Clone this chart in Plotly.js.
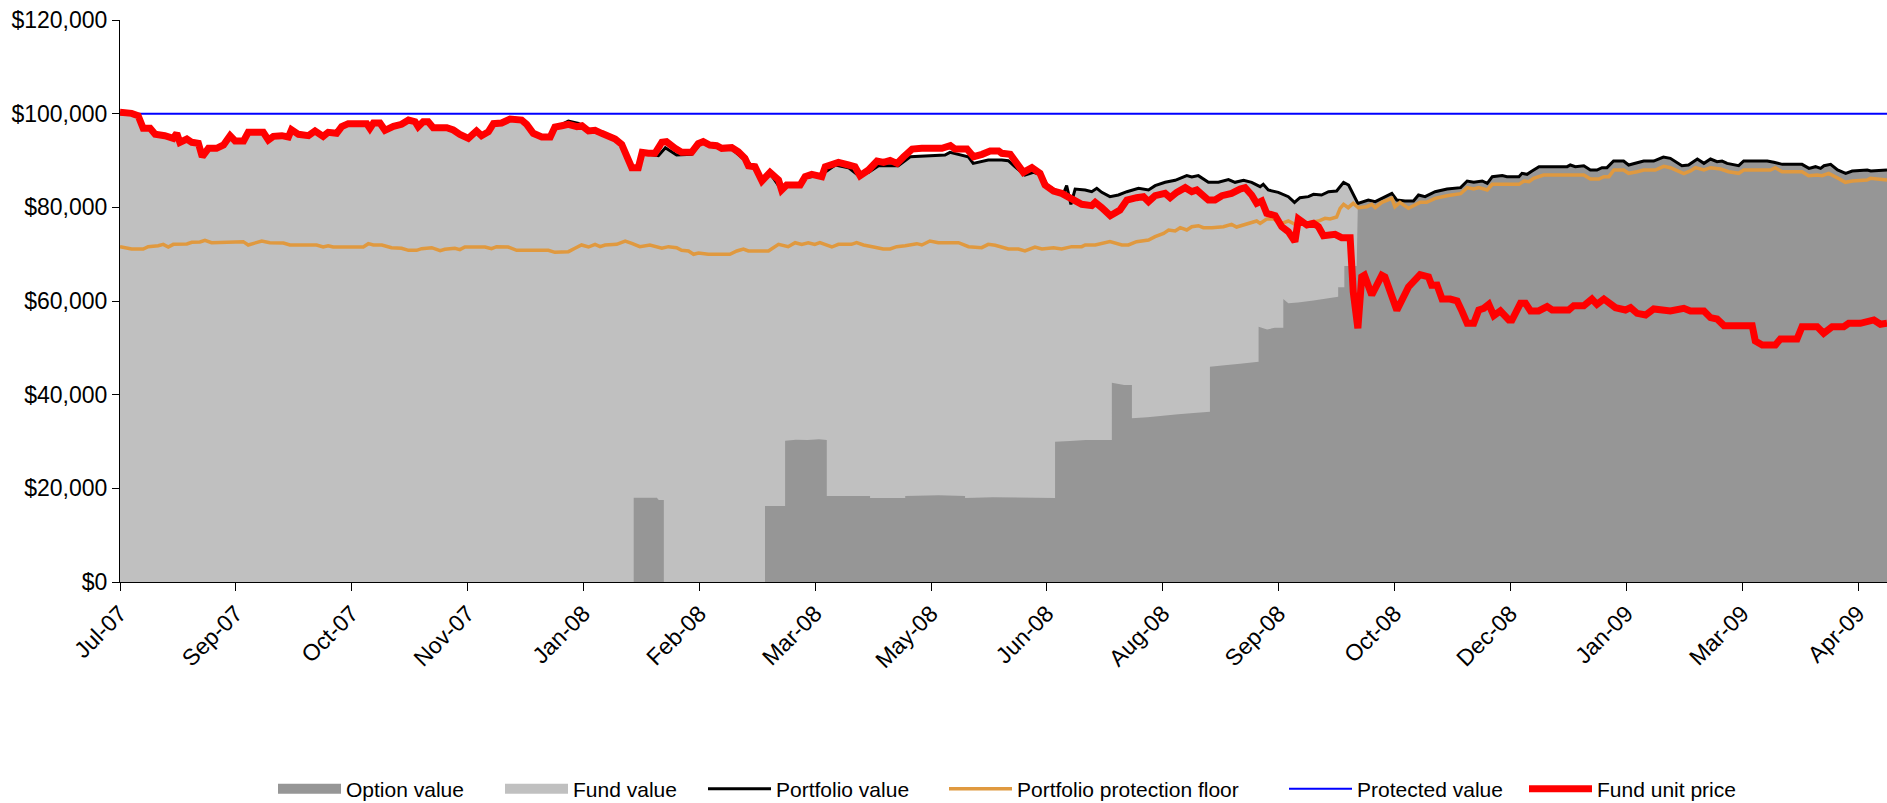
<!DOCTYPE html>
<html>
<head>
<meta charset="utf-8">
<script src="https://cdn.plot.ly/plotly-3.0.1.min.js"></script>
<style>
  html, body { margin: 0; padding: 0; background: #ffffff; }
  #chart { width: 1887px; height: 803px; }
</style>
</head>
<body>
<div id="chart"></div>
<script>
// ---- Data (x = trading-day index from the first observation) ----
const tickLabels = ['Jul-07','Sep-07','Oct-07','Nov-07','Jan-08','Feb-08','Mar-08','May-08',
                    'Jun-08','Aug-08','Sep-08','Oct-08','Dec-08','Jan-09','Mar-09','Apr-09'];
const daysPerTick = 30;

const protectedValue = 100000;

// Portfolio value (black line = top of the stacked area)
const portX = [0,3,4.7,6,7.8,9.1,11.6,13.8,14.7,15.5,17.3,18.6,20.3,21.3,22.9,25,26.8,28.5,29.8,32,33.2,37.1,38.4,39.7,41.9,43.6,44.4,46.2,48.8,50.5,52.6,53.9,56.1,57.4,59.1,63.9,64.7,65.6,67.3,68.6,70.8,72.9,74.7,76.4,77.2,78.5,79.8,81.1,84.6,86.3,88,90.2,92.3,93.6,95.4,96.7,98.8,101,104,105.3,107,109.2,111.4,112.6,114.4,116.1,118.7,121.3,126.5,129.9,132.5,134.2,135.2,139.4,141.2,144.1,148,150.6,154.1,158.4,161.8,164.4,166.2,168.3,171.3,173,176.1,177.4,180.8,183,185.2,188.6,191.2,193.8,196.4,201.5,204.6,213.6,214.9,219.6,220.9,224.8,228.3,230,231.7,234.3,236.5,238.7,240,242.1,244.3,245.1,246.2,247.3,249.9,251.6,252.9,254.2,256.3,258.5,260.7,263.7,266.3,268,270.6,273.2,276.2,277.5,279.2,281.8,284.4,287,288.7,290.9,293,295.2,296,297.3,299.9,302.5,304.1,305.5,307.7,309,311.1,312.9,315,316.8,318.1,320.5,323.2,325,327.1,329.3,330.6,332.7,334.9,336.2,337.9,340.5,343.6,347.1,348.8,350.5,352.7,354,355.3,357.9,359.1,362.2,363,364.3,365.6,367.4,374.7,375.5,376.8,379,380.7,382.4,383.7,385,386.7,389.3,390.6,392.3,394.5,397.1,399.6,401.4,404.4,406.1,408.4,410.1,411.8,413.5,414.8,416.1,417.8,419.1,420.4,426.5,428.2,430.4,435.5,437.3,439,440.3,441.2,442.9,444.7,446.8,448.5,452.4,453.3,457.5];
const portY = [100000,99900,99500,96870,96870,95590,95300,94730,95800,93880,94590,93880,93670,90820,92600,92600,93310,95300,94170,94170,96010,96010,94380,95160,95300,95020,96580,95590,95300,96300,95160,96010,95800,97220,97860,97860,96870,98000,98000,96440,97290,97720,98640,98290,97220,98290,98290,97010,97010,96510,95590,94730,96300,95300,96150,98000,98200,99000,98700,97720,95800,95020,95020,97300,97700,98430,97930,96510,95090,93670,88470,88470,91530,91030,92740,91170,91310,93880,93160,92450,90100,88470,85620,87260,83700,84630,84630,86330,86770,87760,89040,88470,86770,87470,88890,88890,90810,91170,91740,90810,89390,90100,90100,89960,88680,86910,87470,86910,84770,83700,82990,84630,80640,83910,83700,83340,84060,83200,82280,82630,83340,84060,83700,84630,85340,85770,86770,86480,86770,85340,85340,85910,85340,85770,85340,84410,84910,83700,83200,82280,81060,82060,82280,82770,82630,83340,83490,85340,84770,80850,81560,81210,82060,82990,81560,81350,81350,82630,82280,83340,83910,84200,85620,85340,85620,85130,86550,86770,86550,86550,87260,87050,87760,88680,88680,89040,88680,88890,87970,87970,88470,88470,89890,89890,89040,89390,89890,89890,90740,90460,88890,89040,90320,89390,90320,89750,89890,89390,89180,88890,89890,89890,89610,89180,89180,88320,88680,88320,88890,89180,87970,87260,87760,87970,87760,87970];

// Option value (dark area); after the switch the fund value is zero, so the
// option value equals the portfolio value from that point on.
const optX = [0,133,133,139,139.5,140.8,140.8,167,167,172.2,172.2,175,178,181,183,183,194.2,194.2,203.3,203.3,212,218.8,218.8,226,242.1,242.1,246,250,256.8,256.8,260,262,262,266,270,274,278,282.2,282.2,286,290,294.8,294.8,297,299,301.2,301.2,302.5,305,309,312,315.4,315.4,317,317,320.2];
const optY = [0,0,18000,18000,17500,17500,0,0,16230,16230,30170,30400,30300,30500,30300,18360,18360,17935,17935,18360,18500,18360,17935,18100,17935,29960,30100,30300,30300,42560,42060,42060,34950,35200,35500,35800,36100,36370,45970,46300,46600,47040,54510,53900,54300,54300,60430,59500,59700,60100,60500,60920,62920,62920,67470,67470];

// Portfolio protection floor (orange)
const floorX = [0,3,6,7.3,9.9,11.2,12.5,13.8,17.3,18.6,20.7,22,23.7,31.9,33.2,35,36.7,38.8,42.3,44,50.9,52.6,53.9,55.2,63,64.3,65.6,67.8,70.3,72.9,74.7,76.8,78.1,80.7,82.9,84.1,86.7,88,89.3,94.5,96.2,97.5,100.5,102.7,110.9,112.6,116.1,117.8,119.5,121.3,123,124.3,125.6,128.6,130.8,132.5,134.6,137.2,140.3,142,144.1,145.4,147.2,148.5,149.8,152.3,157.9,159.7,161.4,162.7,167.9,170.5,173,174.8,176.5,178.2,179.9,181.2,184.3,186,189.4,190.7,192.5,195.1,197.6,199.4,201.1,203.3,206.3,207.6,209.7,211.9,217.1,219.7,223.1,224.8,226.6,230,232.6,234.3,236.9,238.7,241.7,243.8,246.4,249,249.9,252.5,254.2,256.3,259.4,261.1,263.2,266.3,268,270.2,271.5,273.2,274.5,276.2,277.5,279.2,280.5,282.7,285.7,287.8,289.1,292.2,294.3,295.2,296.9,298.6,300.8,302.5,304.2,306,308.1,310.3,312,313.3,315,315.9,316.8,318,319.3,320.6,322.8,324.1,325,326.7,329.3,330.1,331.4,333.6,335.3,336.6,338.3,340.5,343.6,347.1,348.8,350.5,351.8,354,355.3,362.2,363.5,364.8,366,368.6,379,380.7,382.9,384.2,385.5,386.8,389.3,390.6,392.8,394.5,397.5,399.7,401.4,404.9,406.6,407.9,410.1,411.8,414.4,416.5,419.1,420.4,427.3,428.6,430.3,435.5,437.2,439.4,440.7,442.4,444.6,446.7,448.5,452.3,453.2,457.5];
const floorY = [71600,71100,71100,71600,71810,72100,71530,72100,72170,72520,72600,72950,72450,72670,71960,72450,72810,72450,72380,71960,71960,71530,71810,71530,71530,72240,71960,71960,71390,71250,70820,70820,71180,71390,70750,71030,71250,70960,71530,71530,71180,71600,71530,70820,70820,70390,70530,71250,71960,71530,72100,71600,71960,72100,72810,72310,71600,71960,71250,71600,71390,70820,70680,69970,70250,69970,69970,70680,71100,70680,70680,72100,71600,72450,72100,72450,72100,72450,71530,72100,72100,72450,71960,71530,71100,71100,71600,71810,72240,71960,72810,72450,72450,71600,71390,72100,71900,71100,71100,70680,71530,71100,71390,71100,71600,71600,71960,71960,72310,72670,71960,71960,72670,73020,73730,74440,75160,74940,75650,75160,75870,76080,75650,75650,75870,76370,75800,76580,77080,76580,77510,77510,76580,77080,76370,76370,76800,77080,77650,77510,77930,79790,80640,79930,80850,79930,80140,80640,79930,81060,81920,80140,81060,79790,80500,81060,81060,81920,82490,82910,84200,83910,84200,83700,84910,84910,85620,85480,86190,86910,86910,86050,86050,86550,86550,87970,87970,87260,87610,87970,87970,88750,88470,87190,87760,88470,87970,88470,88180,87610,87260,87970,87970,88470,87610,87610,86770,86910,86770,87260,86330,85340,85620,85840,86190,85840];

// Fund unit price (red)
const priceX = [0,3,4.7,6,7.8,9.1,11.6,13.8,14.7,15.5,17.3,18.6,20.3,21.3,22.9,25,26.8,28.5,29.8,32,33.2,37.1,38.4,39.7,41.9,43.6,44.4,46.2,48.8,50.5,52.6,53.9,56.1,57.4,59.1,63.9,64.7,65.6,67.3,68.6,70.8,72.9,74.7,76.4,77.2,78.5,79.8,81.1,84.6,86.3,88,90.2,92.3,93.6,95.4,96.7,98.8,101,104,105.3,107,109.2,111.4,112.6,114.4,116.1,118.3,119.6,121.3,123,124.7,126.5,128.2,129.9,131.2,132.5,134.2,135.2,136.8,138.5,140.3,141.5,143.7,145.4,148,149.7,151,152.7,154.5,155.8,158.4,160.1,161.8,162.7,164.4,166.2,168.3,169.6,170.5,171.3,172.6,176.1,177.4,179.1,180.8,181.7,182.6,184.3,186,188.6,190.3,191.6,193.8,196,197.7,199.4,201.2,202.9,205.1,207.6,209.8,212.8,215,216.2,219.3,221,223.2,225.3,227.5,228.3,230.5,231.8,233.9,236.1,238.2,239.5,241.7,243.8,245.6,247.3,249,251.6,252.5,254.2,256.4,258.9,260.7,263.2,265,266.3,268,270.6,271.9,273.6,275.8,277.5,278.8,281.8,283.5,285.3,287.8,290,291.3,293,294.3,295.6,296.9,299.1,300.8,302.5,304.2,305.1,307.3,309,310.3,311.6,314.6,316.3,318.5,319.3,320.5,321.5,322.2,324.1,326.7,327.5,330.6,333.6,336.6,338.8,339.6,341,342.3,344.4,346.2,347.5,348.8,350.5,351.8,353.1,354.4,355.7,357.4,359.6,360.4,362.6,363.9,365.2,367.3,369.5,370.8,375.1,376.4,379,381.1,382.4,384.2,387.2,389.8,391.1,392.8,395,397.1,401.4,404.9,406.6,410.1,411.8,413.5,415.3,422.6,423.4,425.2,428.6,429.9,434.2,435.5,439.4,441.1,443.3,446.3,447.6,450.6,454.1,455.8,457.5];
const priceY = [100280,100070,99570,96870,96870,95590,95300,94730,95800,93880,94590,93880,93670,90820,92600,92600,93310,95300,94170,94170,96010,96010,94380,95160,95300,95020,96580,95590,95300,96300,95160,96010,95800,97220,97860,97860,96870,98000,98000,96440,97290,97720,98640,98290,97220,98290,98290,97010,97010,96510,95590,94730,96300,95300,96150,97860,98000,98860,98640,97720,95800,95020,95020,97150,97430,97720,97220,97430,96300,96440,95800,95090,94590,93450,91170,88470,88470,91740,91530,91530,93880,94020,92600,91740,91740,93590,94020,93310,93160,92600,92740,91880,90460,88890,88680,85620,87470,86190,85840,83700,84770,84770,86550,87050,86910,86550,88680,89040,89610,89040,88680,86770,87970,89890,89610,90030,89390,90810,92450,92600,92450,92600,93160,92450,92450,90810,91310,92020,92020,91530,91310,89750,87470,88470,87260,84770,83490,82990,82060,81350,80640,80360,81060,79930,78220,79430,81560,82060,82280,81210,82490,82990,82060,83200,84200,83340,83700,81560,81560,82490,82990,83910,84200,82630,80850,81350,78720,78220,75870,74800,72670,77510,76230,76580,75870,73950,74230,73520,73520,61990,54160,65140,65490,61280,65490,65140,58020,63000,65630,65140,63360,63400,60420,60420,60000,57730,55240,55240,58090,58440,59290,56870,57870,55950,55950,59510,59510,57870,57870,58800,58090,58090,59010,59010,60420,59290,60420,58580,58090,58580,57370,57010,58300,57870,58440,57870,57870,56450,56160,54740,54740,51460,50610,50610,51890,51890,54520,54520,53100,54520,54520,55240,55240,55950,55030,55240];

// ---- Build traces ----
const switchIdx = optX[optX.length - 1];
const optionAllX = optX.slice();
const optionAllY = optY.slice();
for (let i = 0; i < portX.length; i++) {
  if (portX[i] > switchIdx) { optionAllX.push(portX[i]); optionAllY.push(portY[i]); }
}
const xStart = portX[0], xEnd = portX[portX.length - 1];

const FONT = 'Liberation Sans, Arial, Helvetica, sans-serif';
const OPTION_COLOR = '#969696', FUND_COLOR = '#C0C0C0';

const traces = [
  { name: 'Fund value', x: portX, y: portY, type: 'scatter', mode: 'none',
    fill: 'tozeroy', fillcolor: FUND_COLOR, hoverinfo: 'skip', showlegend: false },
  { name: 'Option value', x: optionAllX, y: optionAllY, type: 'scatter', mode: 'none',
    fill: 'tozeroy', fillcolor: OPTION_COLOR, hoverinfo: 'skip', showlegend: false },
  { name: 'Portfolio value', x: portX, y: portY, type: 'scatter', mode: 'lines',
    line: { color: '#000000', width: 3 }, hoverinfo: 'skip', legend: 'legend3' },
  { name: 'Portfolio protection floor', x: floorX, y: floorY, type: 'scatter', mode: 'lines',
    line: { color: '#E0993F', width: 3.5 }, hoverinfo: 'skip', legend: 'legend4' },
  { name: 'Protected value', x: [xStart, xEnd], y: [protectedValue, protectedValue],
    type: 'scatter', mode: 'lines', line: { color: '#0000FF', width: 2 },
    hoverinfo: 'skip', legend: 'legend5' },
  { name: 'Fund unit price', x: priceX, y: priceY, type: 'scatter', mode: 'lines',
    line: { color: '#FF0000', width: 7 }, hoverinfo: 'skip', legend: 'legend6' },
  // legend keys for the two stacked areas (block swatches)
  { name: 'Option value', x: [null], y: [null], type: 'scatter', mode: 'lines',
    line: { color: OPTION_COLOR, width: 14 }, hoverinfo: 'skip', legend: 'legend' },
  { name: 'Fund value', x: [null], y: [null], type: 'scatter', mode: 'lines',
    line: { color: FUND_COLOR, width: 14 }, hoverinfo: 'skip', legend: 'legend2' }
];

const plotL = 120, plotW = 1767, plotT = 20, plotH = 562;
function lg(pxLeft) {
  return {
    x: (pxLeft - plotL) / plotW, y: -(789 - (plotT + plotH)) / plotH,
    xanchor: 'left', yanchor: 'middle', orientation: 'h',
    bgcolor: 'rgba(0,0,0,0)', borderwidth: 0, itemwidth: 63,
    font: { family: FONT, size: 21, color: '#000000' }
  };
}

const layout = {
  width: 1887, height: 803,
  margin: { l: plotL, r: 0, t: plotT, b: 803 - plotT - plotH, pad: 0, autoexpand: false },
  paper_bgcolor: '#ffffff', plot_bgcolor: '#ffffff',
  font: { family: FONT, size: 23, color: '#000000' },
  showlegend: true,
  legend: lg(273), legend2: lg(500), legend3: lg(703),
  legend4: lg(944), legend5: lg(1284), legend6: lg(1524),
  xaxis: {
    range: [xStart, xEnd], tickmode: 'array',
    tickvals: tickLabels.map((_, i) => i * daysPerTick), ticktext: tickLabels,
    tickangle: -45, ticks: 'outside', ticklen: 8, tickwidth: 1, tickcolor: '#000000',
    showline: true, linecolor: '#000000', linewidth: 1, mirror: false,
    showgrid: false, zeroline: false, automargin: false,
    tickfont: { family: FONT, size: 23, color: '#000000' }
  },
  yaxis: {
    range: [0, 120000], tickmode: 'linear', tick0: 0, dtick: 20000,
    tickprefix: '$', tickformat: ',d',
    ticks: 'outside', ticklen: 7, tickwidth: 1, tickcolor: '#000000',
    showline: true, linecolor: '#000000', linewidth: 1,
    showgrid: false, zeroline: false, automargin: false,
    tickfont: { family: FONT, size: 23, color: '#000000' }
  }
};

Plotly.newPlot('chart', traces, layout, { displayModeBar: false, staticPlot: true });
</script>
</body>
</html>
